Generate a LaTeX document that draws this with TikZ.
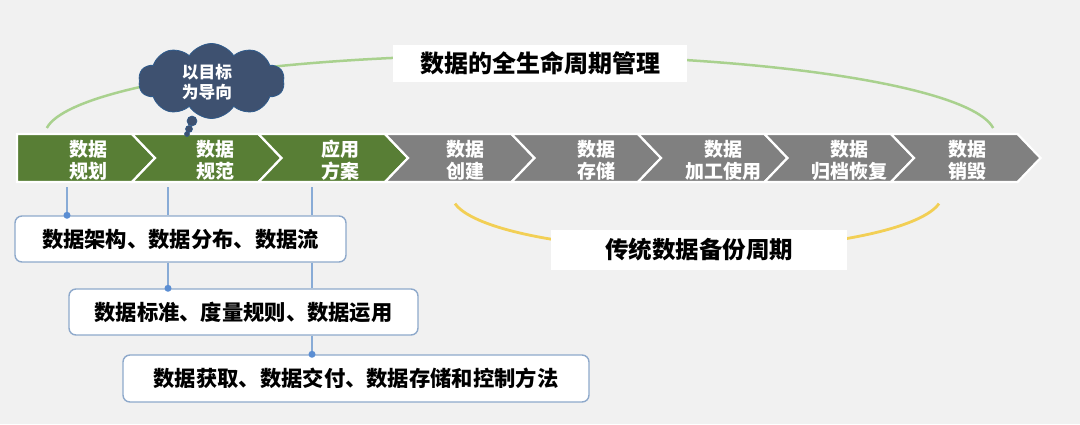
\documentclass[tikz,border=0pt]{standalone}
\usepackage{fontspec}
\setmainfont{Noto Sans CJK SC}
\usetikzlibrary{shapes.symbols}
\definecolor{bgc}{HTML}{F1F1F1}
\definecolor{greenc}{HTML}{587E35}
\definecolor{grayc}{HTML}{808080}
\definecolor{arcgreen}{HTML}{A9D18E}
\definecolor{arcyellow}{HTML}{F2CF55}
\definecolor{cloudc}{HTML}{3E5170}
\definecolor{cloudline}{HTML}{2F5B8C}
\definecolor{linkc}{HTML}{88ABD6}
\definecolor{dotc}{HTML}{5B8ED3}
\definecolor{boxline}{HTML}{8EA9CB}
\tikzset{
  seg/.style={draw=white, line width=2.2pt, line join=miter},
  segtext/.style={text=white, font=\bfseries\fontsize{19}{22}\selectfont, align=center, inner sep=0pt},
  infobox/.style={draw=boxline, line width=1.4pt, fill=white, rounded corners=7pt, font=\bfseries\fontsize{21.3}{24}\selectfont, inner sep=0pt},
  label/.style={fill=white, inner sep=0pt, font=\bfseries},
  link/.style={draw=linkc, line width=1.5pt},
  dot/.style={circle, fill=dotc, inner sep=0pt, minimum size=7pt},
}
\begin{document}
\begin{tikzpicture}[x=1pt,y=-1pt]
\fill[bgc] (0,0) rectangle (1080,424);
\useasboundingbox (0,0) rectangle (1080,424);

% life-cycle arc (green) and backup arc (yellow)
\draw[arcgreen, line width=2.5pt] plot[domain=175:5, samples=90] ({520+475*cos(\x)}, {135-80*sin(\x)});
\draw[arcyellow, line width=2.8pt] plot[domain=189:351, samples=90] ({697+245*cos(\x)}, {195-55*sin(\x)});

% chevron bar
\fill[greenc, seg] (17,134) -- (132,134) -- (155,158) -- (132,182) -- (17,182) -- cycle;
\foreach \a/\b/\c in {132/258.5/greenc, 258.5/385/greenc, 385/511.5/grayc, 511.5/638/grayc, 638/764.5/grayc, 764.5/891/grayc, 891/1017.5/grayc}{
  \fill[\c, seg] (\a,134) -- (\b,134) -- (\b+23,158) -- (\b,182) -- (\a,182) -- (\a+23,158) -- cycle;
}
\node[segtext] (c1) at (88,160) {数据\\规划};
\node[segtext] (c2) at (215,160) {数据\\规范};
\node[segtext] (c3) at (340,160) {应用\\方案};
\node[segtext] (c4) at (465,160) {数据\\创建};
\node[segtext] (c5) at (596,160) {数据\\存储};
\node[segtext] (c6) at (723,160) {数据\\加工使用};
\node[segtext] (c7) at (849,160) {数据\\归档恢复};
\node[segtext] (c8) at (967,160) {数据\\销毁};

% labels on the arcs
\node[label, minimum width=294pt, minimum height=37pt, font=\bfseries\fontsize{24}{28}\selectfont] (title) at (540,63.5) {数据的全生命周期管理};
\node[label, minimum width=296pt, minimum height=40pt, font=\bfseries\fontsize{23.5}{28}\selectfont] (backup) at (699,250) {传统数据备份周期};

% cloud
\node[cloud, cloud puffs=10, cloud puff arc=115, aspect=2, fill=cloudc, draw=cloudline, line width=0.8pt,
      minimum width=146pt, minimum height=75pt, inner sep=0pt] (cloud) at (211.5,81) {};
\node[text=white, align=center, inner sep=0pt, font=\bfseries\fontsize{16.7}{20}\selectfont] (cloudtext) at (207,82) {以目标\\为导向};
\node[circle, fill=cloudc, draw=cloudline, line width=0.6pt, inner sep=0pt, minimum size=10pt] (p1) at (192,121) {};
\node[circle, fill=cloudc, draw=cloudline, line width=0.6pt, inner sep=0pt, minimum size=7pt] (p2) at (189,129) {};
\node[circle, fill=cloudc, draw=cloudline, line width=0.6pt, inner sep=0pt, minimum size=5pt] (p3) at (187,134) {};

% boxes
\node[infobox, minimum width=331pt, minimum height=46pt] (b1) at (180.5,239) {数据架构、数据分布、数据流};
\node[infobox, minimum width=349pt, minimum height=46pt] (b2) at (243.5,312) {数据标准、度量规则、数据运用};
\node[infobox, minimum width=466pt, minimum height=47pt] (b3) at (356,378.5) {数据获取、数据交付、数据存储和控制方法};

% connectors
\coordinate (s1) at (67,187);
\coordinate (s2) at (168,187);
\coordinate (s3) at (312,187);
\draw[link] (s1) -- (s1 |- b1.north);
\draw[link] (s2) -- (s2 |- b1.north);
\draw[link] (s2 |- b1.south) -- (s2 |- b2.north);
\draw[link] (s3) -- (s3 |- b1.north);
\draw[link] (s3 |- b1.south) -- (s3 |- b2.north);
\draw[link] (s3 |- b2.south) -- (s3 |- b3.north);
\node[dot] (d1) at (s1 |- b1.north) {};
\node[dot] (d2) at (s2 |- b2.north) {};
\node[dot] (d3) at (s3 |- b3.north) {};
\end{tikzpicture}
\end{document}
